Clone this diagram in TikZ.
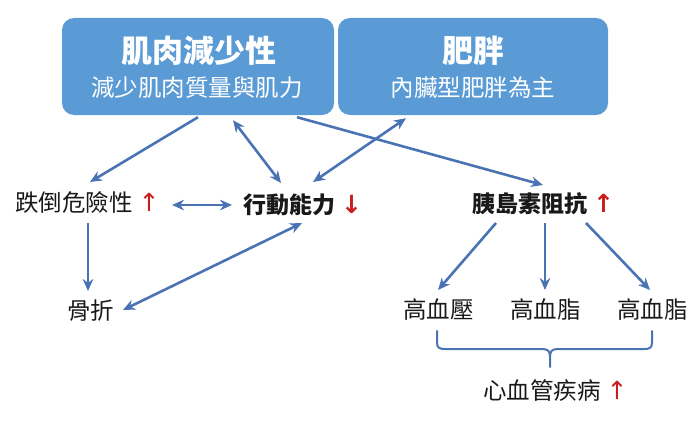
\documentclass[tikz,border=0pt]{standalone}
\usepackage{fontspec}
\newfontfamily\cjk{Noto Sans CJK TC}
\newfontfamily\symfont{DejaVu Sans}
\usetikzlibrary{arrows.meta,calc}
\definecolor{boxblue}{RGB}{91,155,213}
\definecolor{lineblue}{RGB}{74,115,180}
\definecolor{upred}{RGB}{200,30,30}
\definecolor{txt}{RGB}{25,25,25}
\newcommand{\redup}{\hspace{6pt}{\symfont\fontsize{25}{27}\selectfont\color{upred}↑}}
\newcommand{\reddown}{\hspace{6pt}{\symfont\fontsize{25}{27}\selectfont\color{upred}↓}}
\begin{document}
\begin{tikzpicture}[x=1pt,y=-1pt,
  box/.style={fill=boxblue,draw=none,rounded corners=12pt,minimum height=97pt,inner sep=0pt},
  title/.style={inner sep=0pt,text=white,font=\cjk\bfseries\fontsize{31}{33}\selectfont},
  subtitle/.style={inner sep=0pt,text=white,font=\cjk\fontsize{23.5}{25}\selectfont},
  lbl/.style={anchor=west,inner sep=0pt,text=txt,font=\cjk\fontsize{23.5}{25}\selectfont},
  boldlbl/.style={anchor=west,inner sep=0pt,text=txt,font=\cjk\bfseries\fontsize{23}{25}\selectfont},
  conn/.style={draw=lineblue,line width=2.6pt,-{Stealth[length=12pt,width=10.5pt]}},
  dconn/.style={draw=lineblue,line width=2.6pt,{Stealth[length=12pt,width=10.5pt]}-{Stealth[length=12pt,width=10.5pt]}},
  bracestyle/.style={draw=lineblue,line width=2pt,line cap=round,line join=round}]
\useasboundingbox (0,0) rectangle (700,420);
% top boxes
\node[box,minimum width=272pt] (box1) at (198,66.5) {};
\node[box,minimum width=270pt] (box2) at (473,66.5) {};
\node[title] (t1) at (199,51) {肌肉減少性};
\node[subtitle] (s1) at (197,88) {減少肌肉質量與肌力};
\node[title] (t2) at (473,51) {肥胖};
\node[subtitle] (s2) at (473,88) {內臟型肥胖為主};
% labels
\node[lbl] (fall) at (15,203) {跌倒危險性\redup};
\node[boldlbl] (mob) at (243,205) {行動能力\reddown};
\node[boldlbl] (ins) at (472,204) {胰島素阻抗\redup};
\node[lbl] (bone) at (67,311) {骨折};
\node[lbl] (hbp) at (403,310) {高血壓};
\node[lbl] (hl1) at (510,310) {高血脂};
\node[lbl] (hl2) at (617,310) {高血脂};
\node[lbl] (cvd) at (483,390) {心血管疾病\redup};
% connectors
\draw[conn] ($(box1.south)+(0,2)$) -- ($(fall.west)+(75,-21)$);
\draw[dconn] ($(box1.south)+(35,5)$) -- ($(mob.west)+(38,-22)$);
\draw[dconn] ($(box2.south)+(-67,3)$) -- ($(mob.west)+(70,-23)$);
\draw[conn] ($(box1.south)+(99,2)$) -- ($(ins.west)+(71,-19)$);
\draw[dconn] ($(fall.west)+(157,2)$) -- ($(mob.west)+(-11,0)$);
\draw[conn] ($(fall.west)+(73,20)$) -- ($(bone.west)+(21,-20)$);
\draw[dconn] ($(mob.west)+(59,18)$) -- ($(bone.west)+(56,-1)$);
\draw[conn] ($(ins.west)+(24,19)$) -- ($(hbp.west)+(35,-20)$);
\draw[conn] ($(ins.west)+(73,19)$) -- ($(hl1.west)+(35,-20)$);
\draw[conn] ($(ins.west)+(114,19)$) -- ($(hl2.west)+(33,-20)$);
% brace
\draw[bracestyle] (437,331) -- (437,343) .. controls (437,348) and (440,349) .. (445,349) -- (542,349) .. controls (548,349) and (550,351) .. (550,357) -- (550,367);
\draw[bracestyle] (652,331) -- (652,343) .. controls (652,348) and (649,349) .. (644,349) -- (558,349) .. controls (552,349) and (550,351) .. (550,357);
\end{tikzpicture}
\end{document}
